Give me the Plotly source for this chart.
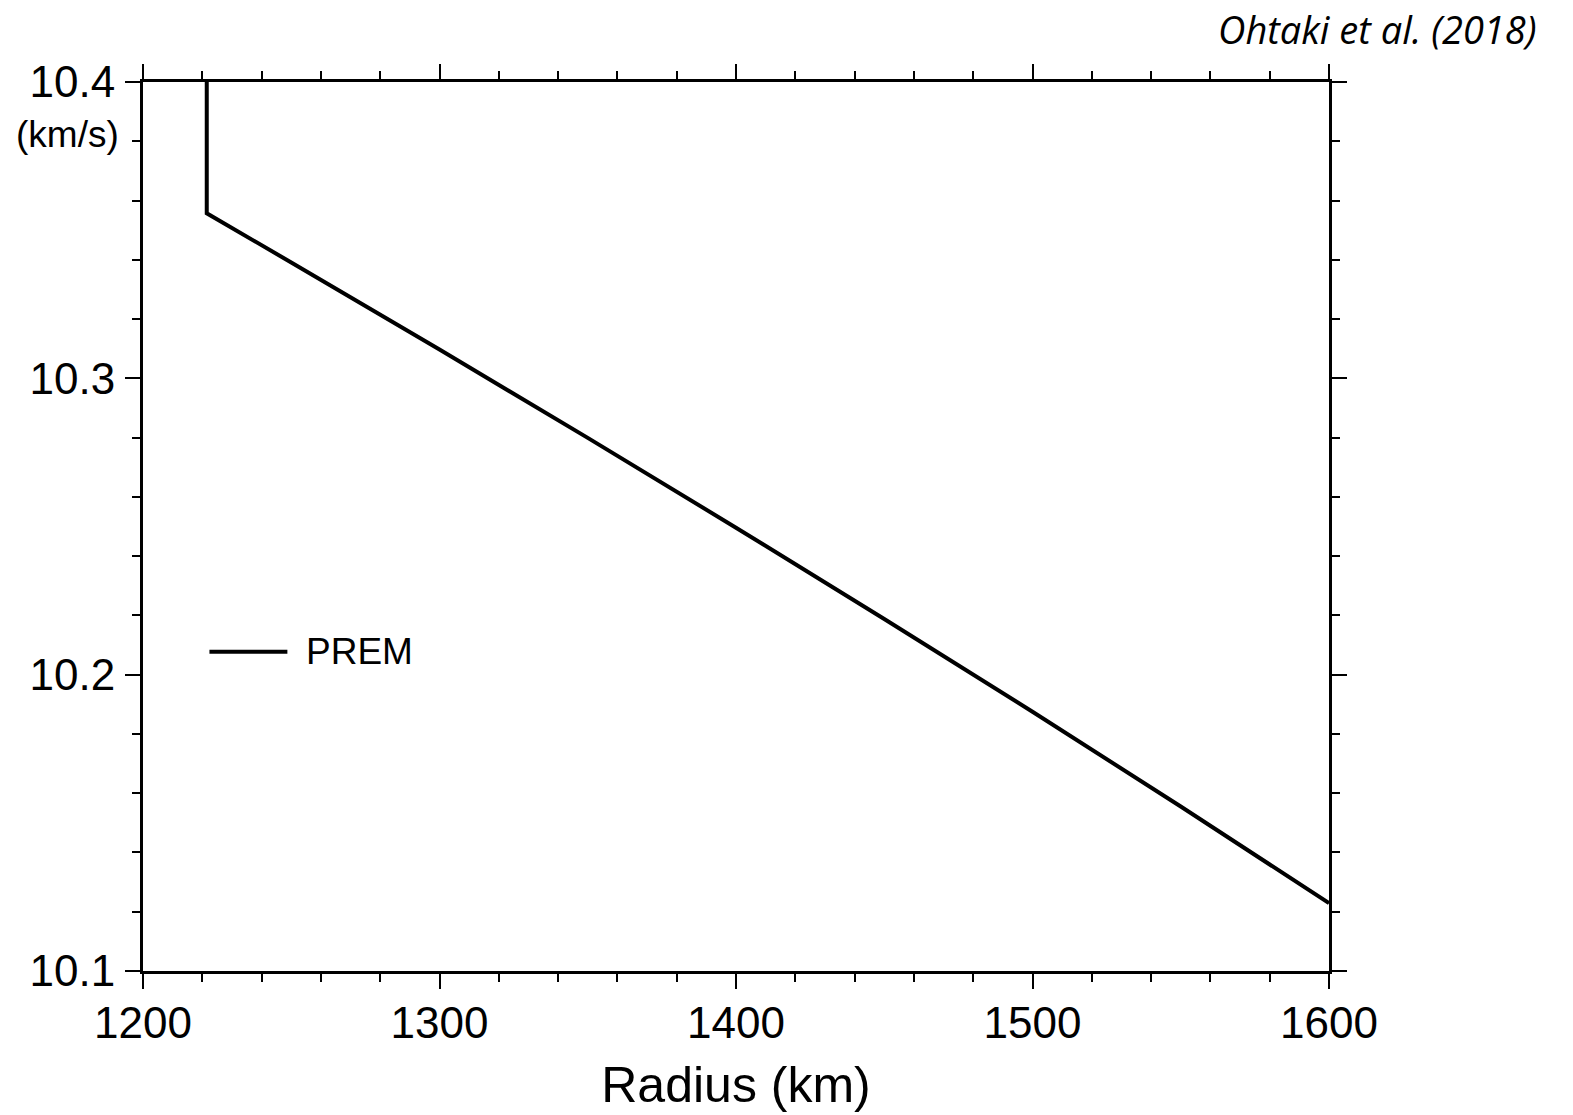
import plotly.graph_objects as go

# PREM P-wave velocity near the inner-core boundary
radius_km = [1221.5, 1221.5, 1250, 1300, 1350, 1400, 1450, 1500, 1550, 1600]
vp_kms = [10.40, 10.3557, 10.3391, 10.3097, 10.2799, 10.2496, 10.2188, 10.1875, 10.1555, 10.1229]

x_ticks = [1200, 1300, 1400, 1500, 1600]
y_ticks = [10.1, 10.2, 10.3, 10.4]
y_tick_labels = ["10.1", "10.2", "10.3", "10.4"]

font_main = "Liberation Sans, Arial, Helvetica, sans-serif"

fig = go.Figure()
fig.add_trace(go.Scatter(
    x=radius_km, y=vp_kms, mode="lines", name="PREM",
    line=dict(color="black", width=4), showlegend=False,
    cliponaxis=True,
))

axis_common = dict(
    showgrid=False, zeroline=False,
    showline=True, linecolor="black", linewidth=3,
    mirror="allticks", ticks="outside", ticklen=15, tickwidth=1.5, tickcolor="black",
    tickfont=dict(family=font_main, size=44, color="black"),
)

fig.update_xaxes(
    range=[1200, 1600], tickvals=x_ticks, ticktext=[str(v) for v in x_ticks],
    minor=dict(dtick=20, tick0=1200, ticks="outside", ticklen=8, tickwidth=1.5, tickcolor="black"),
    title=dict(text="Radius (km)", font=dict(family=font_main, size=50, color="black"), standoff=22),
    ticklabelstandoff=-4,
    **axis_common,
)
fig.update_yaxes(
    range=[10.1, 10.4], tickvals=y_ticks, ticktext=y_tick_labels,
    minor=dict(dtick=0.02, tick0=10.1, ticks="outside", ticklen=8, tickwidth=1.5, tickcolor="black"),
    ticklabelstandoff=1,
    **axis_common,
)

L, R, T, B = 142.5, 1329.5, 81.5, 971.5
W, H = R - L, B - T

# legend sample
fig.add_shape(type="line", xref="paper", yref="paper",
              x0=(209 - L) / W, x1=(287 - L) / W,
              y0=(B - 652) / H, y1=(B - 652) / H,
              line=dict(color="black", width=4))
fig.add_annotation(text="PREM", xref="paper", yref="paper",
                   x=(304 - L) / W, y=(B - 652) / H,
                   xanchor="left", yanchor="middle", showarrow=False,
                   font=dict(family=font_main, size=37, color="black"))

# unit label
fig.add_annotation(text="(km/s)", xref="paper", yref="paper",
                   x=(120 - L) / W, y=(B - 134) / H,
                   xanchor="right", yanchor="middle", showarrow=False,
                   font=dict(family=font_main, size=37, color="black"))

# citation
fig.add_annotation(text="<i>Ohtaki et al. (2018)</i>", xref="paper", yref="paper",
                   x=(1540 - L) / W, y=(B - 28) / H,
                   xanchor="right", yanchor="middle", showarrow=False,
                   font=dict(family="Open Sans, sans-serif", size=38, color="black"))

fig.update_layout(
    width=1573, height=1115,
    margin=dict(l=L, r=1573 - R, t=T, b=1115 - B, pad=0),
    plot_bgcolor="white", paper_bgcolor="white",
)

fig.write_html("out.html")
